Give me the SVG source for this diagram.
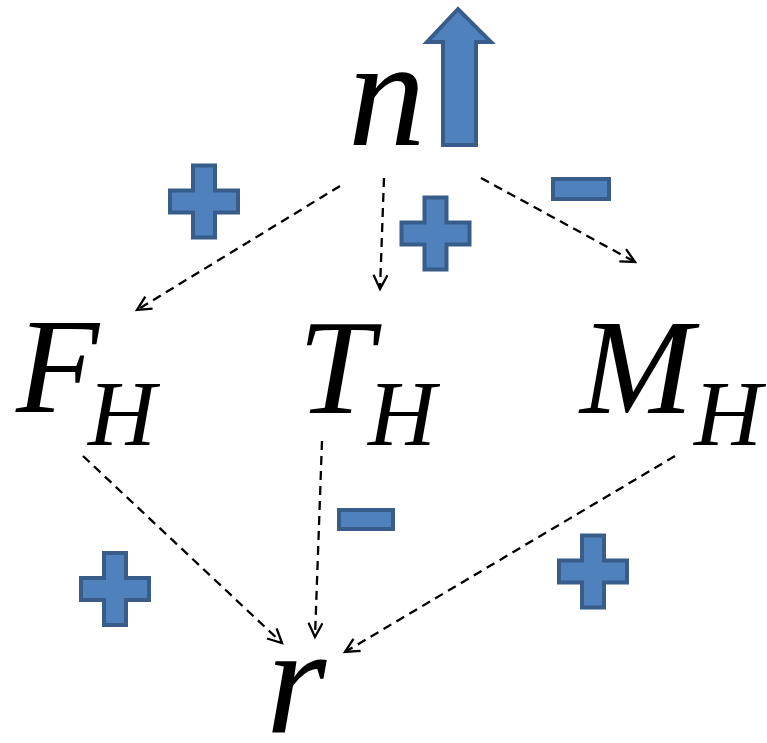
<svg xmlns="http://www.w3.org/2000/svg" width="767" height="743" viewBox="0 0 767 743">
<style>
.sym{fill:#4F81BD;stroke:#385D8A;stroke-width:4}
.lbl{font-family:'Liberation Serif',serif;font-style:italic;fill:#000}
.big{font-size:136px}
.sub{font-size:94px}
.nr{font-size:155px}
.con{fill:none;stroke:#000;stroke-width:2.3;stroke-dasharray:9,6;marker-end:url(#ah)}
</style>
<defs>
<marker id="ah" markerUnits="userSpaceOnUse" markerWidth="20" markerHeight="20" refX="15" refY="8" orient="auto" viewBox="0 0 20 20">
<path d="M1,1 L15,8 L1,15" fill="none" stroke="#000" stroke-width="2.3"/>
</marker>
<path id="plus" d="M-11,-36 H11 V-11 H34 V11 H11 V36 H-11 V11 H-34 V-11 H-11 Z"/>
</defs>
<g id="connectors">
<line class="con" x1="340" y1="186" x2="137" y2="310"/>
<line class="con" x1="384" y1="178" x2="380" y2="289"/>
<line class="con" x1="481" y1="178" x2="635" y2="262"/>
<line class="con" x1="83" y1="456" x2="282" y2="643"/>
<line class="con" x1="322" y1="441" x2="315" y2="637"/>
<line class="con" x1="675" y1="456" x2="345" y2="652"/>
</g>
<g id="node-n">
<text class="lbl nr" x="348" y="145">n</text>
<path class="sym" d="M443,145 V42 H427 L458,9 L491,42 H476 V145 Z"/>
</g>
<g id="node-FH">
<text class="lbl big" x="16" y="412">F</text>
<text class="lbl sub" x="88" y="445">H</text>
</g>
<g id="node-TH">
<text class="lbl big" x="298" y="413">T</text>
<text class="lbl sub" x="368" y="445">H</text>
</g>
<g id="node-MH">
<text class="lbl big" x="580" y="413">M</text>
<text class="lbl sub" x="694" y="445">H</text>
</g>
<g id="node-r">
<text class="lbl nr" x="266" y="732">r</text>
</g>
<g id="signs">
<use href="#plus" class="sym" transform="translate(204,201.5)"/>
<use href="#plus" class="sym" transform="translate(435.5,233.5)"/>
<use href="#plus" class="sym" transform="translate(115,589)"/>
<use href="#plus" class="sym" transform="translate(593,571.5)"/>
<rect class="sym" x="553" y="179" width="56" height="20"/>
<rect class="sym" x="339" y="510" width="54" height="19"/>
</g>
</svg>
